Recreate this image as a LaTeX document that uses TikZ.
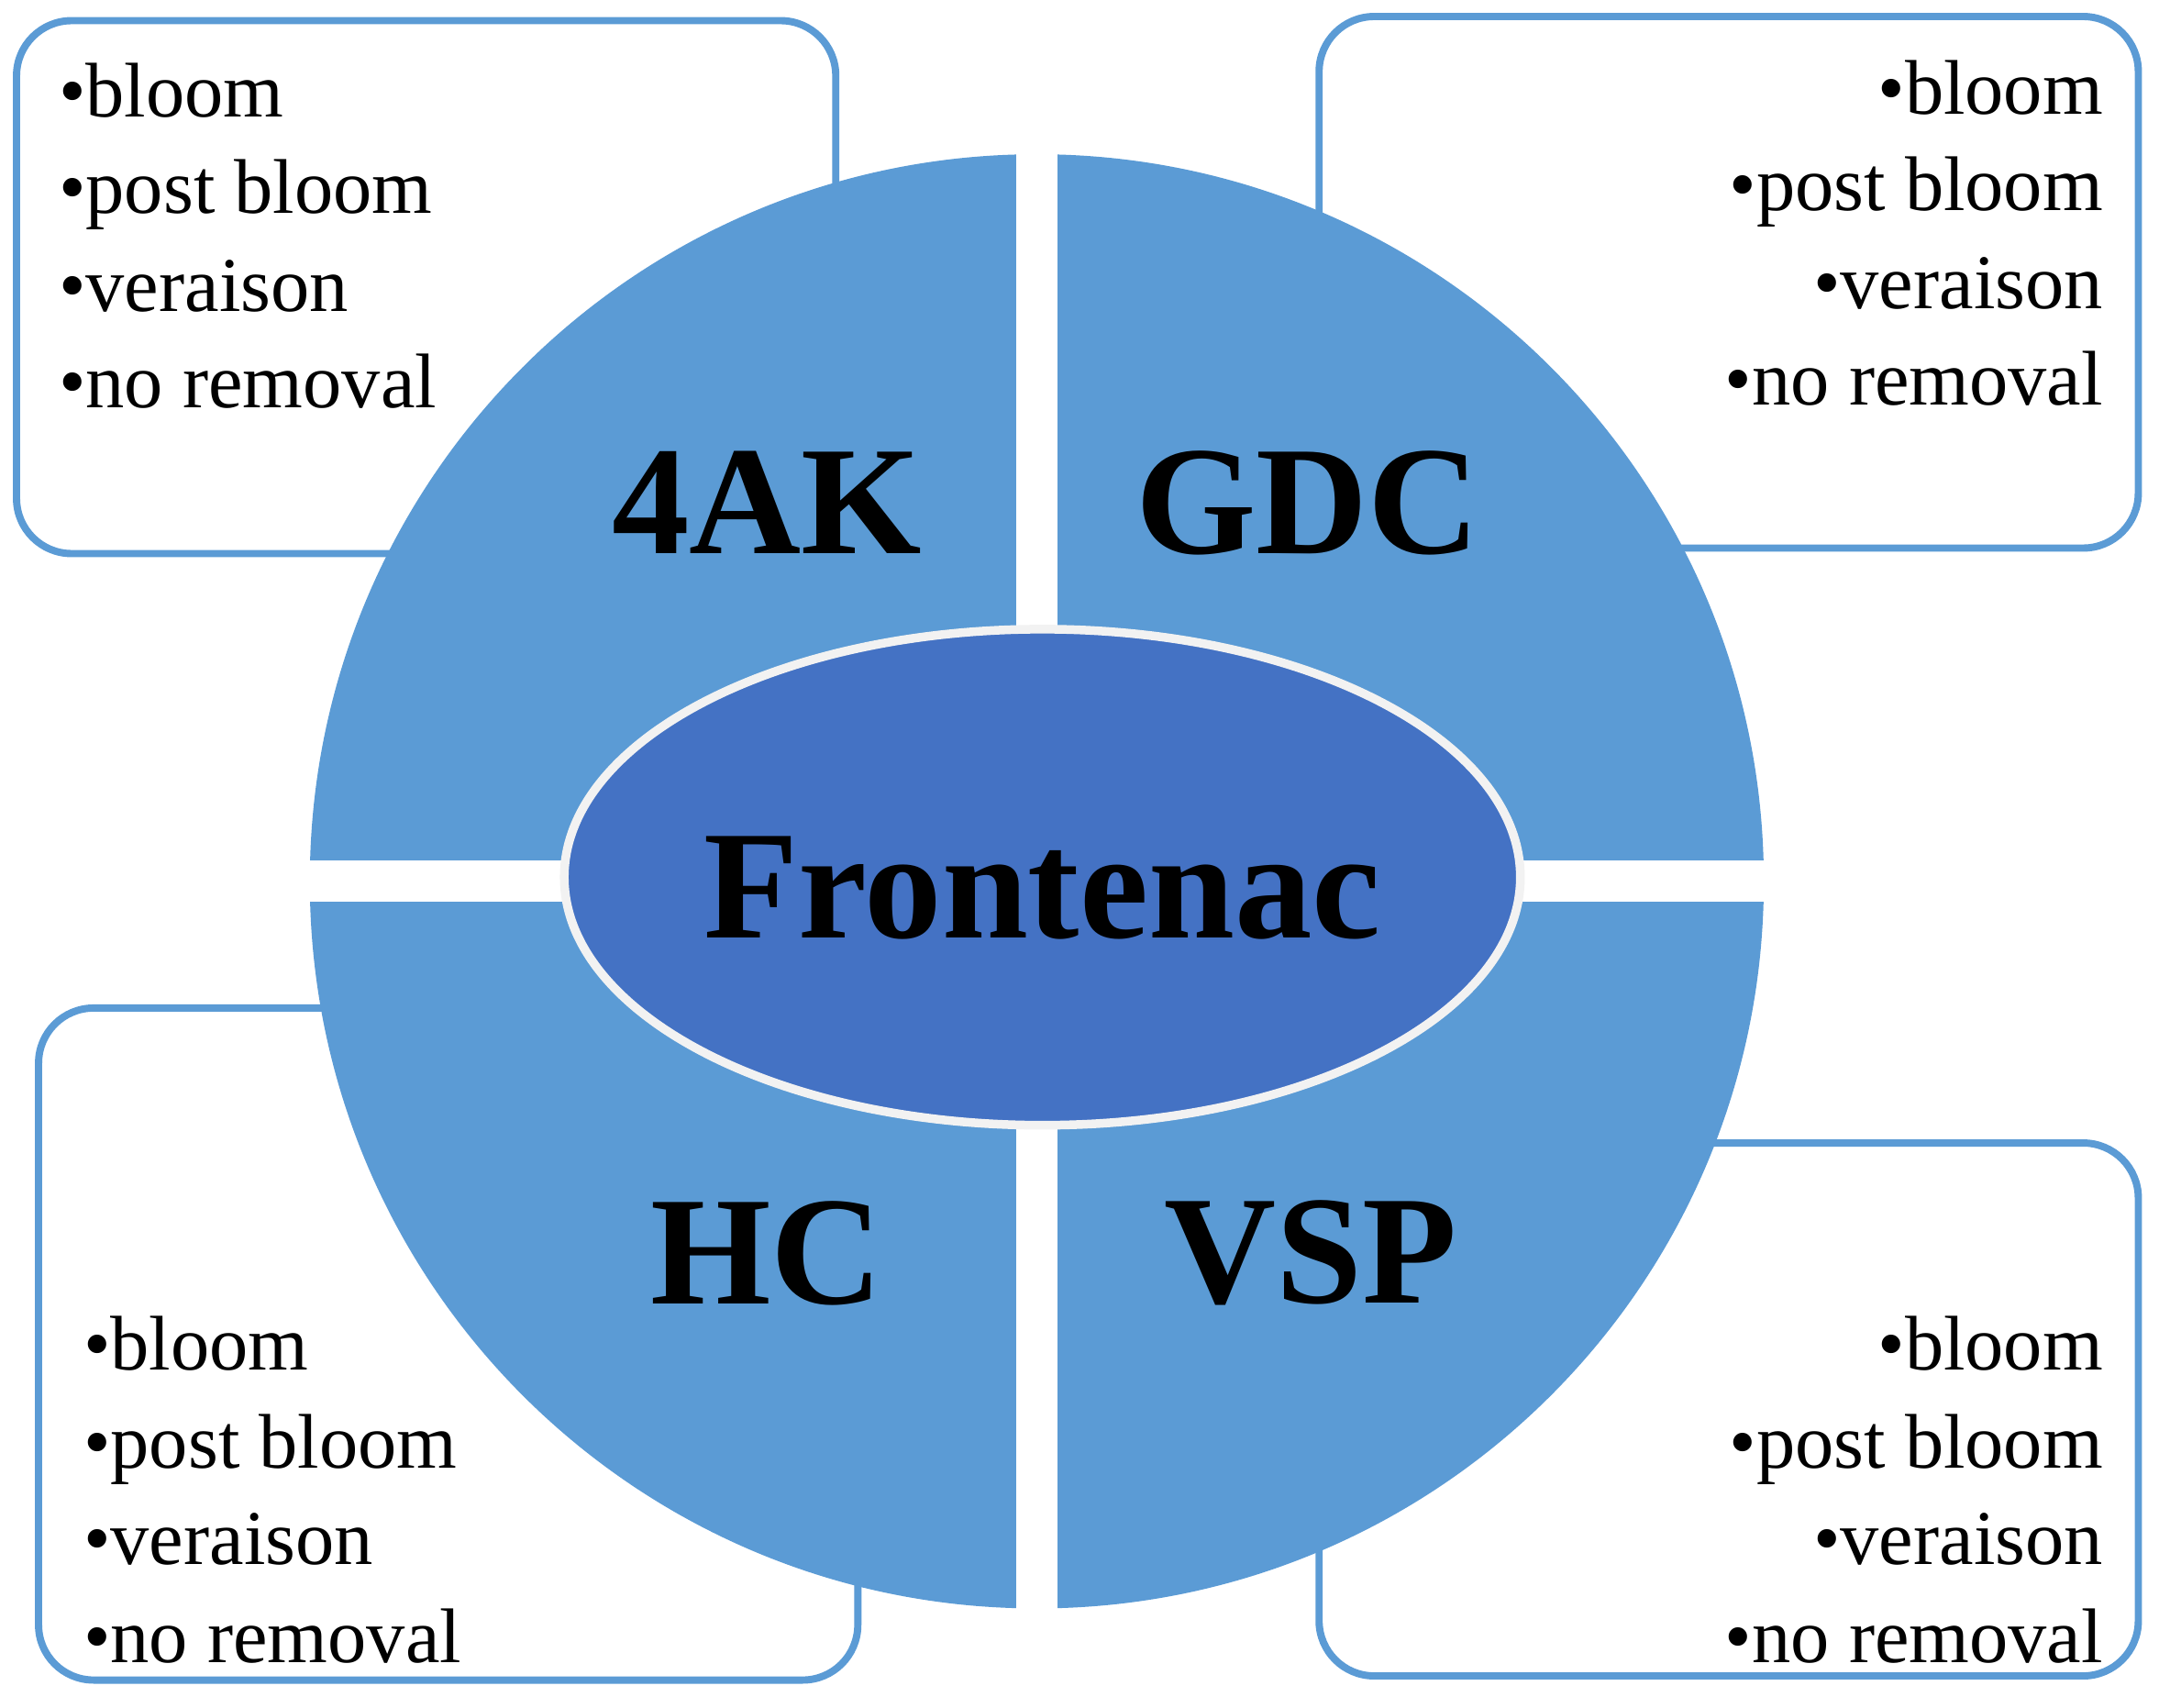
\documentclass[tikz,border=0pt]{standalone}
\usepackage{fontspec}
\setmainfont{Liberation Serif}
\usetikzlibrary{shapes.geometric}
\definecolor{qb}{HTML}{5B9BD5}
\definecolor{eb}{HTML}{4472C4}
\tikzset{x=0.01cm,y=-0.01cm,
 box/.style={draw=qb,line width=1.5pt,fill=white,rounded corners=0.4cm},
 item/.style={font=\fontsize{16}{20}\selectfont,inner sep=0},
 lab/.style={font=\fontsize{32}{36}\selectfont\bfseries,inner sep=0}}
\begin{document}
\begin{tikzpicture}
\useasboundingbox (0,0) rectangle (1568,1240);
\draw[box] (12,15) rectangle (607,402);
\draw[box] (958,12) rectangle (1553,398);
\draw[box] (28,732) rectangle (623,1220);
\draw[box] (958,830) rectangle (1553,1217);
\fill[qb] (753,640) circle (528);
\fill[white] (738,100) rectangle (768,1180);
\fill[white] (215,625) rectangle (1292,655);
\node[ellipse,draw=white!90!gray,line width=1.8pt,fill=eb,minimum width=6.94cm,minimum height=3.6cm,inner sep=0] (fr) at (757,637) {};
\node[lab] (t1) at (757,645) {Frontenac};
\node[lab] (a) at (557,365) {4AK};
\node[lab] (g) at (950,365) {GDC};
\node[lab] (h) at (557,910) {HC};
\node[lab] (v) at (952,910) {VSP};
\foreach \y/\t [count=\i] in {85/bloom,155/post bloom,226/veraison,296/no removal}{
  \node[item,anchor=base west] (tl\i) at (42,\y) {•\t};
  \node[item,anchor=base east] (tr\i) at (1528,\y-2) {•\t};}
\foreach \y/\t [count=\i] in {995/bloom,1066/post bloom,1136/veraison,1207/no removal}{
  \node[item,anchor=base west] (bl\i) at (60,\y) {•\t};
  \node[item,anchor=base east] (br\i) at (1528,\y) {•\t};}
\end{tikzpicture}
\end{document}
